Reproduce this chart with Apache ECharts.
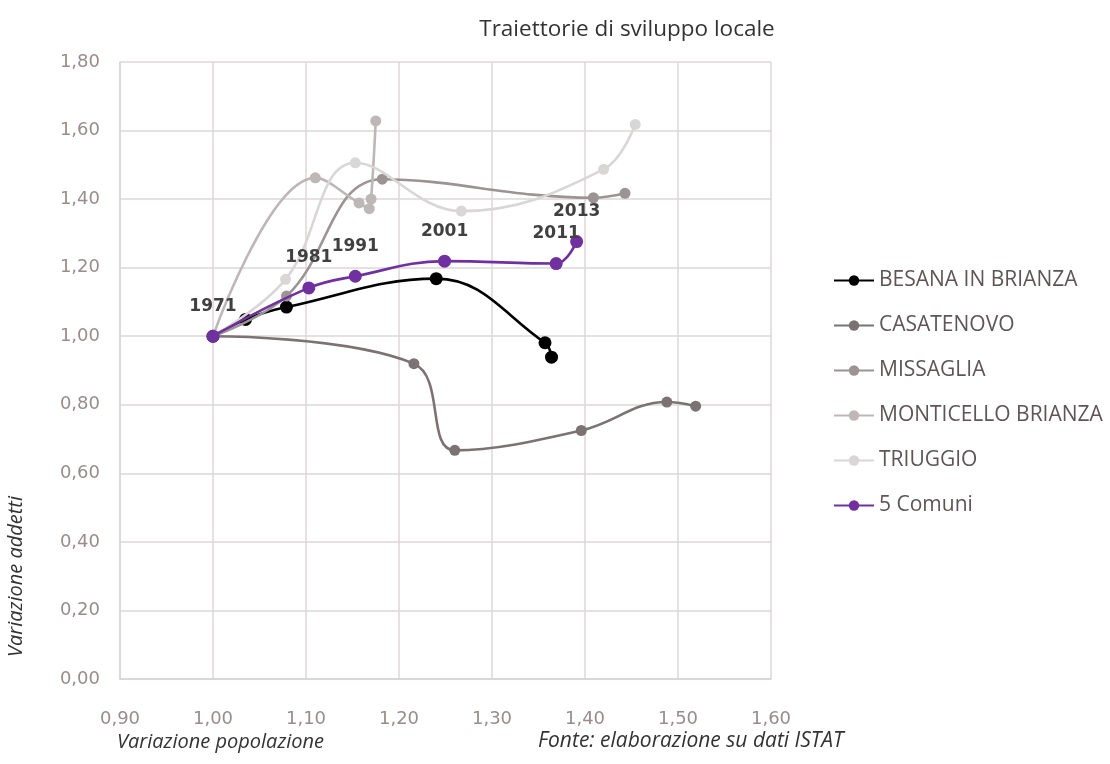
<!DOCTYPE html>
<html>
<head>
<meta charset="utf-8">
<script src="https://cdn.jsdelivr.net/npm/echarts@6/dist/echarts.min.js"></script>
<style>html,body{margin:0;padding:0;background:#fff;}#c{width:1110px;height:764px;}</style>
</head>
<body>
<div id="c"></div>
<script>
var years = ['1971', '1981', '1991', '2001', '2011', '2013'];
var seriesNames = ['BESANA IN BRIANZA', 'CASATENOVO', 'MISSAGLIA', 'MONTICELLO BRIANZA', 'TRIUGGIO', '5 Comuni'];
var besanaX = [1.00, 1.035, 1.079, 1.240, 1.357, 1.364];
var besanaY = [1.00, 1.049, 1.085, 1.168, 0.981, 0.939];
var casatenovoX = [1.00, 1.216, 1.260, 1.396, 1.488, 1.519];
var casatenovoY = [1.00, 0.920, 0.667, 0.725, 0.808, 0.796];
var missagliaX = [1.00, 1.079, 1.182, 1.409, 1.443];
var missagliaY = [1.00, 1.117, 1.458, 1.404, 1.417];
var monticelloX = [1.00, 1.110, 1.157, 1.168, 1.170, 1.175];
var monticelloY = [1.00, 1.462, 1.389, 1.372, 1.400, 1.628];
var triuggioX = [1.00, 1.078, 1.153, 1.267, 1.420, 1.454];
var triuggioY = [1.00, 1.166, 1.506, 1.365, 1.487, 1.618];
var comuniX = [1.00, 1.103, 1.153, 1.249, 1.369, 1.391];
var comuniY = [1.00, 1.141, 1.175, 1.219, 1.212, 1.276];

var colors = ['#000000', '#7b7373', '#9c9494', '#bdb7b7', '#d9d6d6', '#7030a0'];

function pairs(xs, ys) { return xs.map(function (x, i) { return [x, ys[i]]; }); }
var allData = [pairs(besanaX, besanaY), pairs(casatenovoX, casatenovoY), pairs(missagliaX, missagliaY),
  pairs(monticelloX, monticelloY), pairs(triuggioX, triuggioY), pairs(comuniX, comuniY)];

function fmt(v) { return v.toFixed(2).replace('.', ','); }

var series = allData.map(function (d, i) {
  var s = {
    name: seriesNames[i], type: 'line', data: d, smooth: 0.4,
    symbol: 'circle', symbolSize: (i === 0 || i === 5) ? 13 : 11,
    lineStyle: { color: colors[i], width: 2.6 },
    itemStyle: { color: colors[i] },
    z: 2 + i
  };
  if (i === 5) {
    s.label = {
      show: true, position: 'top', distance: 15,
      formatter: function (p) { return years[p.dataIndex]; },
      fontFamily: 'DejaVu Sans', fontWeight: 'bold', fontSize: 17, color: '#404040'
    };
  }
  return s;
});

var chart = echarts.init(document.getElementById('c'), null, { renderer: 'canvas' });
chart.setOption({
  backgroundColor: '#ffffff',
  animation: false,
  color: colors,
  title: {
    text: 'Traiettorie di sviluppo locale', left: 622, top: 13, textAlign: 'center',
    textStyle: { fontFamily: 'Open Sans', fontWeight: 'normal', fontSize: 22.5, color: '#333333' }
  },
  legend: {
    orient: 'vertical', left: 828, top: 265, itemWidth: 40, itemHeight: 13, itemGap: 24,
    itemStyle: { borderWidth: 0 },
    textStyle: { fontFamily: 'Open Sans', fontSize: 21, lineHeight: 20, color: '#5e5656' },
    data: seriesNames
  },
  grid: { left: 120, right: 339, top: 62, bottom: 85 },
  xAxis: {
    type: 'value', min: 0.9, max: 1.6, interval: 0.1,
    axisLine: { show: true, lineStyle: { color: '#d9d4d4', width: 1.5 } },
    axisTick: { show: false },
    splitLine: { show: true, lineStyle: { color: '#ddd7d7', width: 1.5 } },
    axisLabel: { formatter: fmt, margin: 31, fontFamily: 'DejaVu Sans', fontSize: 18, color: '#978d8d' }
  },
  yAxis: {
    type: 'value', min: 0, max: 1.8, interval: 0.2,
    axisLine: { show: true, lineStyle: { color: '#d9d4d4', width: 1.5 } },
    axisTick: { show: false },
    splitLine: { show: true, lineStyle: { color: '#ddd7d7', width: 1.5 } },
    axisLabel: { formatter: fmt, margin: 20, fontFamily: 'DejaVu Sans', fontSize: 18, color: '#978d8d' }
  },
  graphic: [
    { type: 'text', left: 6, top: 496, rotation: Math.PI / 2,
      style: { text: 'Variazione addetti', fontFamily: 'Open Sans', fontStyle: 'italic', fontSize: 20, fill: '#333333' } },
    { type: 'text', left: 117, top: 732,
      style: { text: 'Variazione popolazione', fontFamily: 'Open Sans', fontStyle: 'italic', fontSize: 20, fill: '#333333' } },
    { type: 'text', left: 538, top: 731,
      style: { text: 'Fonte: elaborazione su dati ISTAT', fontFamily: 'Open Sans', fontStyle: 'italic', fontSize: 21, fill: '#333333' } }
  ],
  series: series
});
</script>
</body>
</html>
